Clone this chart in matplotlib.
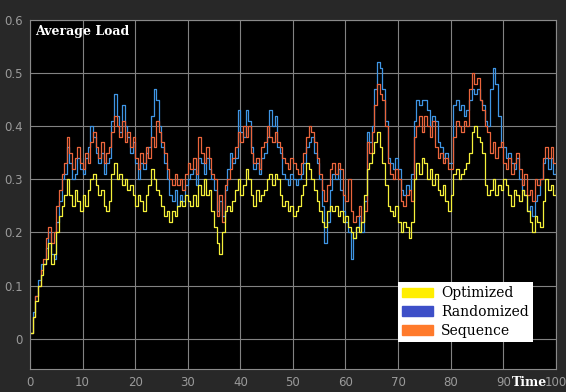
import numpy as np
import matplotlib
matplotlib.use("Agg")
import matplotlib.pyplot as plt
from matplotlib.patches import Patch

# sample times (0.5 step) and load per scheduling policy
time = np.arange(0, 100.5, 0.5)

sequence = [
    0.01, 0.04, 0.08, 0.10, 0.13, 0.15, 0.19, 0.21, 0.18, 0.20,
    0.25, 0.28, 0.31, 0.33, 0.38, 0.35, 0.32, 0.34, 0.36, 0.33,
    0.32, 0.35, 0.33, 0.37, 0.39, 0.36, 0.34, 0.37, 0.33, 0.35,
    0.36, 0.39, 0.42, 0.40, 0.38, 0.41, 0.37, 0.39, 0.36, 0.38,
    0.34, 0.32, 0.35, 0.33, 0.36, 0.34, 0.38, 0.36, 0.41, 0.39,
    0.37, 0.35, 0.32, 0.30, 0.29, 0.31, 0.29, 0.30, 0.28, 0.31,
    0.33, 0.32, 0.34, 0.31, 0.38, 0.35, 0.33, 0.36, 0.34, 0.31,
    0.30, 0.23, 0.27, 0.22, 0.29, 0.30, 0.32, 0.34, 0.36, 0.39,
    0.37, 0.40, 0.38, 0.40, 0.35, 0.33, 0.34, 0.32, 0.36, 0.37,
    0.40, 0.38, 0.37, 0.39, 0.37, 0.36, 0.34, 0.33, 0.32, 0.34,
    0.33, 0.32, 0.31, 0.33, 0.35, 0.38, 0.40, 0.39, 0.37, 0.34,
    0.31, 0.28, 0.26, 0.29, 0.32, 0.33, 0.31, 0.33, 0.32, 0.27,
    0.26, 0.30, 0.24, 0.22, 0.23, 0.25, 0.22, 0.24, 0.37, 0.35,
    0.39, 0.44, 0.48, 0.46, 0.45, 0.40, 0.33, 0.31, 0.30, 0.32,
    0.30, 0.26, 0.25, 0.27, 0.28, 0.26, 0.38, 0.40, 0.42, 0.39,
    0.42, 0.40, 0.38, 0.41, 0.36, 0.34, 0.35, 0.33, 0.34, 0.32,
    0.32, 0.38, 0.41, 0.40, 0.39, 0.41, 0.40, 0.47, 0.50, 0.48,
    0.49, 0.45, 0.43, 0.40, 0.39, 0.35, 0.37, 0.34, 0.36, 0.37,
    0.33, 0.32, 0.34, 0.31, 0.33, 0.35, 0.32, 0.29, 0.31, 0.27,
    0.28, 0.26, 0.30, 0.29, 0.30, 0.34, 0.36, 0.34, 0.36, 0.33,
    0.33,
]

randomized = [
    0.01, 0.05, 0.08, 0.11, 0.14, 0.14, 0.17, 0.20, 0.16, 0.15,
    0.22, 0.26, 0.30, 0.31, 0.36, 0.33, 0.30, 0.31, 0.34, 0.32,
    0.31, 0.34, 0.36, 0.40, 0.38, 0.35, 0.33, 0.35, 0.31, 0.33,
    0.34, 0.41, 0.46, 0.42, 0.39, 0.44, 0.40, 0.38, 0.35, 0.37,
    0.33, 0.30, 0.33, 0.32, 0.35, 0.36, 0.42, 0.47, 0.45, 0.40,
    0.36, 0.33, 0.30, 0.27, 0.26, 0.28, 0.25, 0.27, 0.26, 0.29,
    0.30, 0.31, 0.32, 0.29, 0.34, 0.33, 0.31, 0.34, 0.32, 0.30,
    0.28, 0.24, 0.26, 0.23, 0.28, 0.32, 0.35, 0.33, 0.34, 0.43,
    0.39, 0.38, 0.43, 0.41, 0.36, 0.32, 0.33, 0.31, 0.34, 0.35,
    0.38, 0.43, 0.40, 0.42, 0.36, 0.35, 0.31, 0.30, 0.29, 0.31,
    0.30, 0.29, 0.30, 0.31, 0.33, 0.36, 0.37, 0.38, 0.35, 0.33,
    0.30, 0.25, 0.18, 0.22, 0.28, 0.31, 0.30, 0.32, 0.28, 0.24,
    0.22, 0.20, 0.15, 0.19, 0.21, 0.23, 0.20, 0.26, 0.39, 0.37,
    0.40, 0.47, 0.52, 0.51, 0.47, 0.41, 0.34, 0.33, 0.32, 0.34,
    0.32, 0.28, 0.27, 0.29, 0.28, 0.31, 0.41, 0.45, 0.44, 0.45,
    0.45, 0.43, 0.40, 0.42, 0.41, 0.37, 0.36, 0.34, 0.35, 0.33,
    0.33, 0.44, 0.45, 0.43, 0.44, 0.42, 0.43, 0.45, 0.47, 0.46,
    0.47, 0.45, 0.44, 0.41, 0.40, 0.47, 0.51, 0.48, 0.42, 0.36,
    0.36, 0.34, 0.35, 0.33, 0.32, 0.34, 0.30, 0.28, 0.27, 0.24,
    0.25, 0.23, 0.26, 0.27, 0.30, 0.33, 0.34, 0.32, 0.34, 0.31,
    0.32,
]

optimized = [
    0.01, 0.04, 0.07, 0.10, 0.12, 0.14, 0.15, 0.18, 0.14, 0.16,
    0.20, 0.23, 0.25, 0.27, 0.30, 0.27, 0.25, 0.28, 0.26, 0.24,
    0.27, 0.25, 0.28, 0.30, 0.31, 0.29, 0.27, 0.28, 0.25, 0.24,
    0.26, 0.31, 0.33, 0.30, 0.31, 0.29, 0.30, 0.28, 0.29, 0.27,
    0.25, 0.27, 0.26, 0.24, 0.27, 0.29, 0.32, 0.30, 0.28, 0.27,
    0.25, 0.23, 0.24, 0.22, 0.24, 0.23, 0.25, 0.26, 0.25, 0.27,
    0.26, 0.25, 0.27, 0.25, 0.29, 0.27, 0.30, 0.27, 0.28, 0.24,
    0.21, 0.18, 0.16, 0.20, 0.24, 0.25, 0.24, 0.26, 0.28, 0.30,
    0.27, 0.29, 0.32, 0.30, 0.27, 0.25, 0.28, 0.26, 0.27, 0.28,
    0.30, 0.31, 0.29, 0.31, 0.30, 0.27, 0.25, 0.26, 0.24, 0.25,
    0.23, 0.24, 0.25, 0.27, 0.29, 0.33, 0.32, 0.30, 0.28, 0.26,
    0.24, 0.22, 0.21, 0.24, 0.25, 0.24, 0.25, 0.23, 0.24, 0.22,
    0.23, 0.21, 0.20, 0.19, 0.21, 0.20, 0.22, 0.27, 0.32, 0.33,
    0.35, 0.37, 0.39, 0.36, 0.33, 0.29, 0.25, 0.24, 0.23, 0.25,
    0.22, 0.20, 0.22, 0.21, 0.19, 0.22, 0.30, 0.33, 0.31, 0.34,
    0.33, 0.30, 0.32, 0.29, 0.31, 0.28, 0.27, 0.29, 0.26, 0.24,
    0.27, 0.31, 0.32, 0.30, 0.31, 0.32, 0.33, 0.35, 0.39, 0.40,
    0.38, 0.37, 0.35, 0.29, 0.27, 0.28, 0.30, 0.27, 0.29, 0.28,
    0.30, 0.29, 0.27, 0.25, 0.28, 0.27, 0.26, 0.28, 0.27, 0.24,
    0.22, 0.20, 0.23, 0.22, 0.21, 0.26, 0.30, 0.28, 0.29, 0.27,
    0.28,
]

legend_labels = ["Optimized", "Randomized", "Sequence"]
legend_colors = ["#ffee00", "#3d4fc8", "#ff7a2b"]

fig = plt.figure(figsize=(5.66, 3.92), dpi=100, facecolor="#282828")
ax = fig.add_axes([0.053, 0.059, 0.929, 0.890], facecolor="black")

ax.plot(time, randomized, drawstyle="steps-post", color="#3f95e4", lw=0.9)
ax.plot(time, sequence, drawstyle="steps-post", color="#ea653c", lw=0.9)
ax.plot(time, optimized, drawstyle="steps-post", color="#f5f03a", lw=0.9)

ax.set_xlim(0, 100)
ax.set_ylim(-0.057, 0.6)
ax.set_xticks(np.arange(0, 101, 10))
ax.set_yticks(np.arange(0, 0.61, 0.1))
ax.set_yticklabels(["0", "0.1", "0.2", "0.3", "0.4", "0.5", "0.6"])
ax.tick_params(colors="#9a9a9a", labelsize=8.5, length=0, pad=5)
ax.grid(True, color="#828282", lw=0.8)
for s in ax.spines.values():
    s.set_color("#8a8a8a")
    s.set_linewidth(0.8)

ax.text(0.01, 0.985, "Average Load", transform=ax.transAxes, ha="left", va="top",
        color="white", fontsize=9, fontweight="bold", family="DejaVu Serif")
fig.text(0.966, 0.023, "Time", ha="right", va="center", color="white",
         fontsize=9, fontweight="bold", family="DejaVu Serif")

handles = [Patch(facecolor=c, edgecolor=c) for c in legend_colors]
leg = ax.legend(handles, legend_labels, loc="lower left", bbox_to_anchor=(0.70, 0.077),
                borderaxespad=0, fancybox=False, framealpha=1, facecolor="white",
                edgecolor="white", handlelength=2.2, handleheight=0.65,
                labelspacing=0.35, borderpad=0.3, handletextpad=0.6,
                prop={"family": "DejaVu Serif", "size": 10})
leg.get_frame().set_linewidth(0)

fig.savefig("out.png", dpi=100, facecolor=fig.get_facecolor())
